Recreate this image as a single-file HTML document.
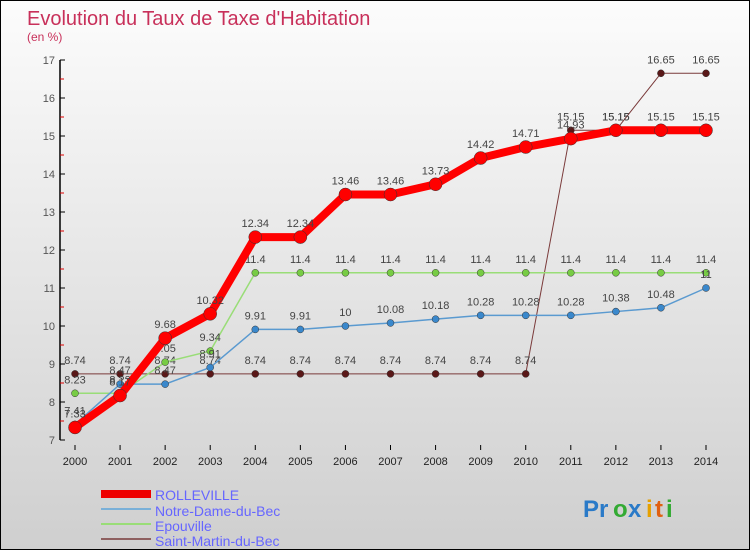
<!DOCTYPE html>
<html><head><meta charset="utf-8"><style>
html,body{margin:0;padding:0}
body{width:750px;height:550px;overflow:hidden;font-family:"Liberation Sans",sans-serif}
#wrap{position:relative;width:748px;height:548px;border:1px solid #000;background:linear-gradient(#fcfcfc,#cfcfcf)}
</style></head><body>
<div id="wrap">
<svg id="chart" width="748" height="548">
<text x="26" y="24" font-size="20" fill="#c8305a">Evolution du Taux de Taxe d'Habitation</text>
<text x="26" y="40" font-size="12" fill="#c8305a">(en %)</text>
<g id="axes"></g><g id="series"></g>
<g>
<rect x="100" y="489" width="50" height="8" fill="#e00"/>
<text x="154" y="499" font-size="14" fill="#66f">ROLLEVILLE</text>
<line x1="100" y1="508" x2="150" y2="508" stroke="#7ab0d8" stroke-width="2"/>
<text x="154" y="515" font-size="14" fill="#66f">Notre-Dame-du-Bec</text>
<line x1="100" y1="523" x2="150" y2="523" stroke="#99dd77" stroke-width="2"/>
<text x="154" y="530" font-size="14" fill="#66f">Epouville</text>
<line x1="100" y1="538" x2="150" y2="538" stroke="#8e6060" stroke-width="2"/>
<text x="154" y="545" font-size="14" fill="#66f">Saint-Martin-du-Bec</text>
</g>
<g font-size="24" font-weight="bold">
<text x="582" y="516" fill="#2a7ac8">Pr</text><text x="612" y="516" fill="#3a3">o</text><text x="627" y="516" fill="#2a7ac8">x</text><text x="645" y="516" fill="#e6a000">i</text><text x="654" y="516" fill="#e06010">t</text><text x="665" y="516" fill="#3a3">i</text>
</g>
</svg>
</div>
<script>
const years=[2000,2001,2002,2003,2004,2005,2006,2007,2008,2009,2010,2011,2012,2013,2014];
const yTicks=[7,8,9,10,11,12,13,14,15,16,17];
const rolleville=[7.33,8.17,9.68,10.32,12.34,12.34,13.46,13.46,13.73,14.42,14.71,14.93,15.15,15.15,15.15];
const notreDame=[7.41,8.47,8.47,8.91,9.91,9.91,10,10.08,10.18,10.28,10.28,10.28,10.38,10.48,11];
const epouville=[8.23,8.23,9.05,9.34,11.4,11.4,11.4,11.4,11.4,11.4,11.4,11.4,11.4,11.4,11.4];
const saintMartin=[8.74,8.74,8.74,8.74,8.74,8.74,8.74,8.74,8.74,8.74,8.74,15.15,15.15,16.65,16.65];
const NS="http://www.w3.org/2000/svg";
const xS=i=>74+i*(631/14);
const yS=v=>439-(v-7)*38;
function mk(tag,attrs,parent){const e=document.createElementNS(NS,tag);for(const k in attrs)e.setAttribute(k,attrs[k]);parent.appendChild(e);return e;}
const ax=document.getElementById('axes');
const yl=mk('line',{x1:59,y1:yS(17),x2:59,y2:yS(7),stroke:'#000','stroke-width':1.5},ax);


yTicks.forEach(v=>{
 mk('line',{x1:59,y1:yS(v),x2:64,y2:yS(v),stroke:'#000'},ax);
 if(v<17)mk('line',{x1:59,y1:yS(v+0.5),x2:63,y2:yS(v+0.5),stroke:'#d00'},ax);
 const t=mk('text',{x:54,y:yS(v)+4,'font-size':11,fill:'#555','text-anchor':'end'},ax);t.textContent=v;
 
 
});
years.forEach((y,i)=>{
 mk('line',{x1:xS(i),y1:444,x2:xS(i),y2:449,stroke:'#000'},ax);
 const t=mk('text',{x:xS(i),y:464,'font-size':11,fill:'#222','text-anchor':'middle'},ax);t.textContent=y;
 
 
});
const sg=document.getElementById('series');
function series(data,color,w,r,name,dot){
 const g=mk('g',{},sg);
 
 
 const p=mk('polyline',{points:data.map((v,i)=>xS(i)+','+yS(v)).join(' '),fill:'none',stroke:color,'stroke-width':w,'stroke-linejoin':'round'},g);
 
 
 data.forEach((v,i)=>{
  const c=mk('circle',{cx:xS(i),cy:yS(v),r:r,fill:dot,stroke:'#333','stroke-width':0.5},g);
  
  
  const t=mk('text',{x:xS(i),y:yS(v)-10,'font-size':11,fill:'#444','text-anchor':'middle'},g);t.textContent=v;
  
  
 });
}
series(saintMartin,'#7a3a3a',1,3.5,'saint-martin-du-bec','#5a1818');
series(epouville,'#99dd77',1.5,3.5,'epouville','#77cc44');
series(notreDame,'#5a9ad0',1.5,3.5,'notre-dame-du-bec','#3a88cc');
series(rolleville,'#f00',8,6.5,'rolleville','#f00');
</script>
</body></html>
